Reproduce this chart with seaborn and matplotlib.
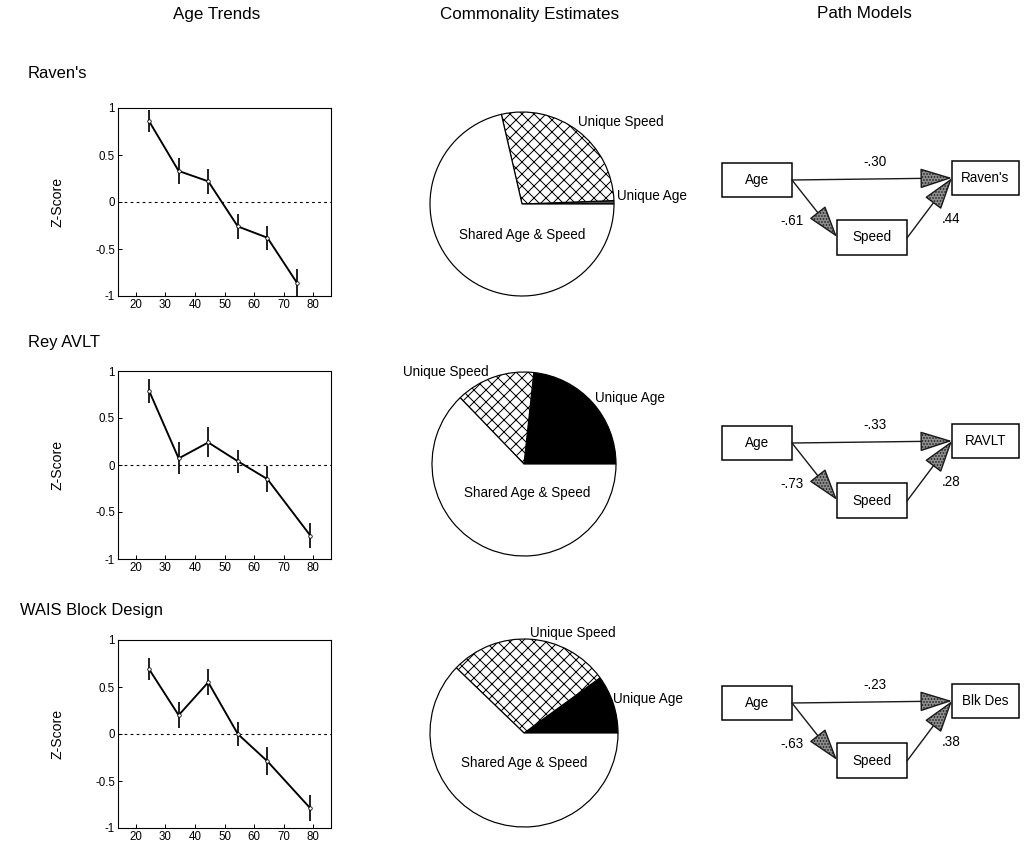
import numpy as np
import pandas as pd
import matplotlib
matplotlib.use("Agg")
import matplotlib.pyplot as plt
import seaborn as sns
from matplotlib.patches import Rectangle, FancyArrowPatch

# ---- data -------------------------------------------------------------
tests = ["Raven's", "Rey AVLT", "WAIS Block Design"]
outcome_short = ["Raven's", "RAVLT", "Blk Des"]

ages_ravens = [24.5, 34.5, 44.5, 54.5, 64.5, 74.5]
ages_ravlt = [24.5, 34.5, 44.5, 54.5, 64.5, 79.0]
ages_block = [24.5, 34.5, 44.5, 54.5, 64.5, 79.0]

z_ravens = [0.86, 0.33, 0.22, -0.26, -0.38, -0.86]
z_ravlt = [0.79, 0.07, 0.24, 0.04, -0.15, -0.75]
z_block = [0.69, 0.20, 0.55, 0.00, -0.29, -0.79]

se_ravens = [0.12, 0.14, 0.13, 0.13, 0.13, 0.15]
se_ravlt = [0.13, 0.17, 0.16, 0.12, 0.14, 0.13]
se_block = [0.12, 0.14, 0.14, 0.13, 0.15, 0.14]

x_ticks = [20, 30, 40, 50, 60, 70, 80]
y_ticks = [-1, -0.5, 0, 0.5, 1]
y_tick_labels = ["-1", "-0.5", "0", "0.5", "1"]

# commonality partition of age-related variance
unique_age = [0.006, 0.233, 0.100]
unique_speed = [0.280, 0.139, 0.278]
shared_age_speed = [0.714, 0.628, 0.622]

# standardized path coefficients
path_age_direct = [-0.30, -0.33, -0.23]
path_age_speed = [-0.61, -0.73, -0.63]
path_speed_out = [0.44, 0.28, 0.38]

ages = [ages_ravens, ages_ravlt, ages_block]
zs = [z_ravens, z_ravlt, z_block]
ses = [se_ravens, se_ravlt, se_block]

# ---- figure -----------------------------------------------------------
W, H, DPI = 1024, 843, 72
sns.set_theme(style="white")
plt.rcParams["font.family"] = ["Liberation Sans", "DejaVu Sans"]
plt.rcParams["hatch.linewidth"] = 1.0
for key in ("text.color", "axes.labelcolor", "xtick.color", "ytick.color",
            "axes.edgecolor"):
    plt.rcParams[key] = "black"

fig = plt.figure(figsize=(W / DPI, H / DPI), dpi=DPI, facecolor="white")

overlay = fig.add_axes([0, 0, 1, 1], zorder=-1)
overlay.set_xlim(0, W)
overlay.set_ylim(H, 0)
overlay.axis("off")


def px_axes(left, top, width, height, **kw):
    return fig.add_axes([left / W, 1 - (top + height) / H, width / W, height / H], **kw)


def coef(v):
    s = f"{v:.2f}"
    return s.replace("0.", ".")


# column headings
overlay.text(217, 14, "Age Trends", ha="center", va="center", fontsize=17)
overlay.text(530, 14, "Commonality Estimates", ha="center", va="center", fontsize=17)
overlay.text(864, 13, "Path Models", ha="center", va="center", fontsize=17)

row_label_pos = [(28, 73), (28, 343), (20, 611)]
line_tops = [108, 371, 640]
pie_centers = [(522, 204, 92), (524, 464, 92), (524, 733, 94)]
path_tops = [163, 426, 686]

pie_label_pos = [
    {"us": (0.61, 0.89), "ua": (1.03, 0.09), "sh": (0.0, -0.34)},
    {"us": (-1.32, 1.0), "ua": (0.77, 0.72), "sh": (0.04, -0.32)},
    {"us": (0.06, 1.06), "ua": (0.95, 0.36), "sh": (0.0, -0.32)},
]
ua_colors = ["0.3", "black", "black"]

for i in range(3):
    # row heading
    lx, ly = row_label_pos[i]
    overlay.text(lx, ly, tests[i], ha="left", va="center", fontsize=16.5)

    # ---- age trend -----------------------------------------------------
    ax = px_axes(118, line_tops[i], 213, 188)
    df = pd.DataFrame({"age": ages[i], "z": zs[i], "se": ses[i]})
    ax.axhline(0, color="black", lw=1.1, ls=(0, (2.5, 3)), zorder=1)
    ax.vlines(df["age"], df["z"] - df["se"], df["z"] + df["se"],
              color="black", lw=1.7, zorder=2)
    sns.lineplot(data=df, x="age", y="z", ax=ax, color="black", lw=1.9,
                 marker="o", markersize=3.5, markerfacecolor="white",
                 markeredgecolor="black", markeredgewidth=0.8,
                 errorbar=None, sort=False, zorder=3)
    ax.set_xlim(14, 86)
    ax.set_ylim(-1, 1)
    ax.set_xticks(x_ticks)
    ax.set_yticks(y_ticks)
    ax.set_yticklabels(y_tick_labels)
    ax.set_xlabel("")
    ax.set_ylabel("")
    ax.tick_params(direction="in", length=4, width=1, labelsize=11.5, pad=3,
                   colors="black", bottom=True, left=True)
    for sp in ax.spines.values():
        sp.set_visible(True)
        sp.set_color("black")
        sp.set_linewidth(1.1)
    overlay.text(57, line_tops[i] + 94, "Z-Score", rotation=90, ha="center",
                 va="center", fontsize=14)

    # ---- commonality pie ----------------------------------------------
    cx, cy, r = pie_centers[i]
    m = 1.03
    pax = px_axes(cx - m * r, cy - m * r, 2 * m * r, 2 * m * r)
    pax.pie([unique_age[i], unique_speed[i], shared_age_speed[i]],
            startangle=0, counterclock=True,
            colors=[ua_colors[i], "white", "white"],
            hatch=["", "xx", ""],
            wedgeprops=dict(edgecolor="black", linewidth=1.2))
    pax.set_xlim(-m, m)
    pax.set_ylim(-m, m)
    pax.set_aspect("equal")
    pax.axis("off")
    lp = pie_label_pos[i]
    pax.text(*lp["us"], "Unique Speed", ha="left", va="center", fontsize=13.5,
             clip_on=False)
    pax.text(*lp["ua"], "Unique Age", ha="left", va="center", fontsize=13.5,
             clip_on=False)
    pax.text(*lp["sh"], "Shared Age & Speed", ha="center", va="center",
             fontsize=13.5, clip_on=False)

    # ---- path model ---------------------------------------------------
    y0 = path_tops[i]
    boxes = {
        "age": (722, y0, 70, 34, "Age"),
        "out": (952, y0 - 2, 67, 34, outcome_short[i]),
        "speed": (837, y0 + 57, 70, 35, "Speed"),
    }
    for bx, by, bw, bh, lab in boxes.values():
        overlay.add_patch(Rectangle((bx, by), bw, bh, facecolor="white",
                                    edgecolor="black", lw=1.5))
        overlay.text(bx + bw / 2, by + bh / 2, lab, ha="center", va="center",
                     fontsize=13.5)

    arrow_kw = dict(arrowstyle="-|>,head_length=1.9,head_width=0.6",
                    mutation_scale=15, facecolor="0.55", edgecolor="0.1",
                    hatch="....", lw=1.4, shrinkA=0, shrinkB=0)
    overlay.add_patch(FancyArrowPatch((792, y0 + 17), (952, y0 + 15), **arrow_kw))
    overlay.add_patch(FancyArrowPatch((792, y0 + 17), (837, y0 + 74), **arrow_kw))
    overlay.add_patch(FancyArrowPatch((907, y0 + 75), (952, y0 + 15), **arrow_kw))

    overlay.text(875, y0 - 1, coef(path_age_direct[i]), ha="center",
                 va="center", fontsize=13.5)
    overlay.text(792, y0 + 58, coef(path_age_speed[i]), ha="center",
                 va="center", fontsize=13.5)
    overlay.text(951, y0 + 56, coef(path_speed_out[i]), ha="center",
                 va="center", fontsize=13.5)

fig.savefig("out.png", dpi=DPI, facecolor="white")
